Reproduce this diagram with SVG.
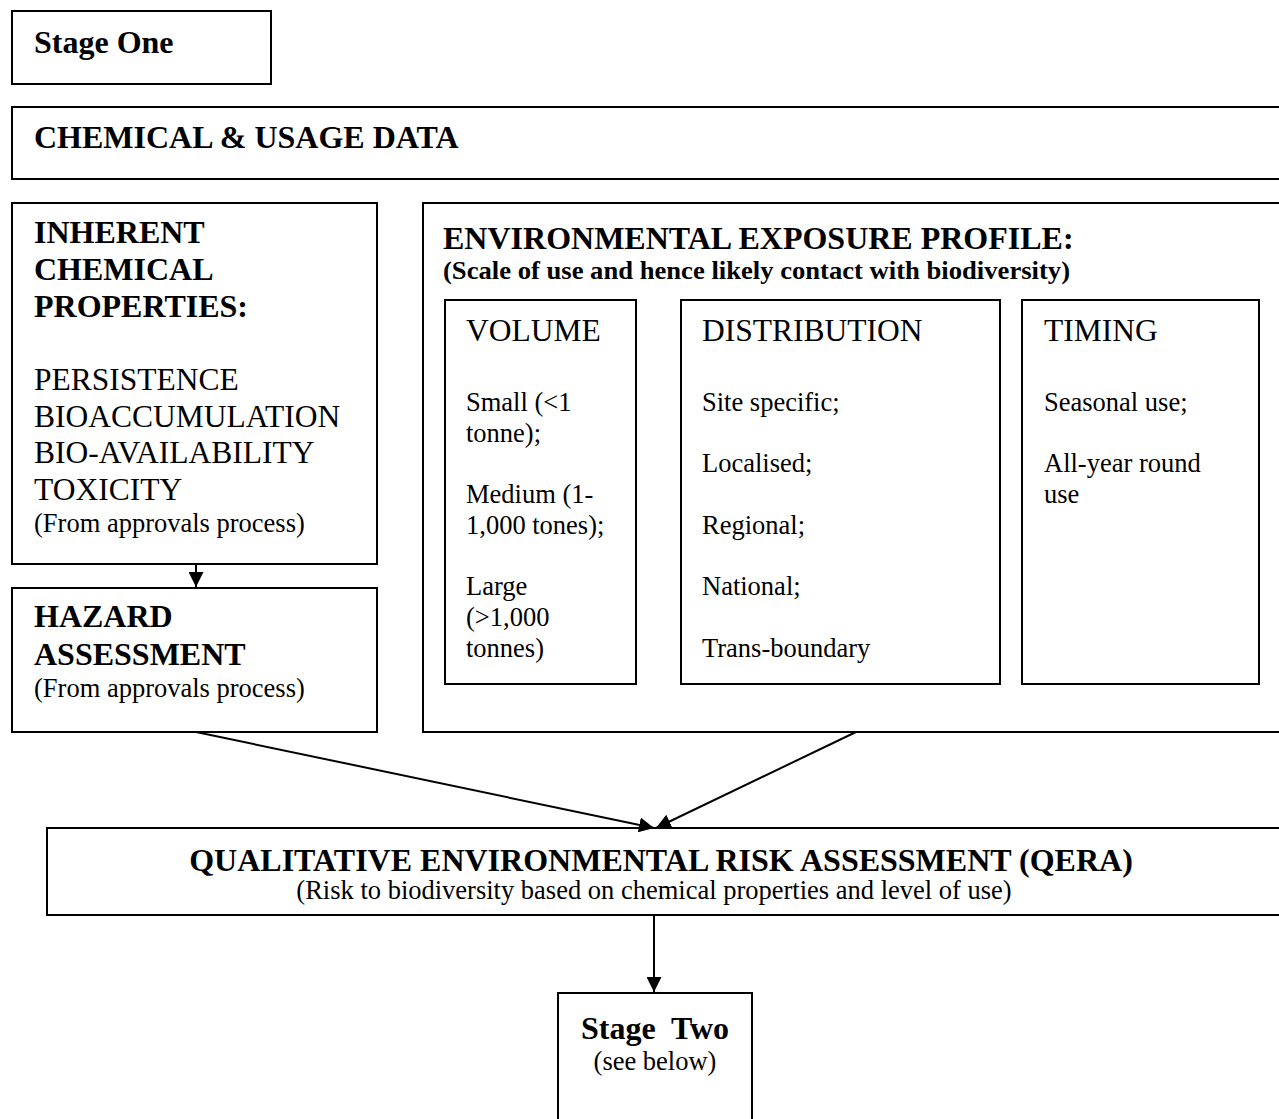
<svg xmlns="http://www.w3.org/2000/svg" width="1279" height="1119" viewBox="0 0 1279 1119">
  <style>
    .box { fill: #ffffff; stroke: #000000; stroke-width: 2; }
    .link { fill: none; stroke: #000000; stroke-width: 2; }
    text { font-family: "Liberation Serif", "Times New Roman", serif; fill: #000000; }
    .h { font-size: 32px; font-weight: bold; }
    .big { font-size: 31.5px; }
    .sm { font-size: 26.5px; }
    .smb { font-size: 25px; font-weight: bold; }
  </style>
  <defs>
    <marker id="arrow" viewBox="0 0 15 15" refX="15" refY="7.5" markerWidth="15" markerHeight="15" markerUnits="userSpaceOnUse" orient="auto">
      <path d="M0,0 L15,7.5 L0,15 Z" fill="#000000"/>
    </marker>
  </defs>
  <rect width="1279" height="1119" fill="#ffffff"/>

  <g id="stage-one">
    <rect class="box" x="12" y="11" width="259" height="73"/>
    <text class="h" x="34" y="53">Stage One</text>
  </g>

  <g id="chemical-usage-data">
    <rect class="box" x="12" y="107" width="1290" height="72"/>
    <text class="h" x="34" y="148">CHEMICAL &amp; USAGE DATA</text>
  </g>

  <g id="inherent-properties">
    <rect class="box" x="12" y="203" width="365" height="361"/>
    <text class="h" x="34" y="243">INHERENT</text>
    <text class="h" x="34" y="280">CHEMICAL</text>
    <text class="h" x="34" y="317">PROPERTIES:</text>
    <text class="big" x="34" y="390">PERSISTENCE</text>
    <text class="big" x="34" y="427">BIOACCUMULATION</text>
    <text class="big" x="34" y="463">BIO-AVAILABILITY</text>
    <text class="big" x="34" y="500">TOXICITY</text>
    <text class="sm" x="34" y="532">(From approvals process)</text>
  </g>

  <g id="hazard-assessment">
    <rect class="box" x="12" y="588" width="365" height="144"/>
    <text class="h" x="34" y="627">HAZARD</text>
    <text class="h" x="34" y="665">ASSESSMENT</text>
    <text class="sm" x="34" y="697">(From approvals process)</text>
  </g>

  <g id="exposure-profile">
    <rect class="box" x="423" y="203" width="880" height="529"/>
    <text class="h" x="443" y="249">ENVIRONMENTAL EXPOSURE PROFILE:</text>
    <text class="smb" x="443" y="279" textLength="627" lengthAdjust="spacingAndGlyphs">(Scale of use and hence likely contact with biodiversity)</text>
  </g>

  <g id="volume">
    <rect class="box" x="445" y="300" width="191" height="384"/>
    <text class="big" x="466" y="341">VOLUME</text>
    <text class="sm" x="466" y="411">Small (&lt;1</text>
    <text class="sm" x="466" y="442">tonne);</text>
    <text class="sm" x="466" y="503">Medium (1-</text>
    <text class="sm" x="466" y="534">1,000 tones);</text>
    <text class="sm" x="466" y="595">Large</text>
    <text class="sm" x="466" y="626">(&gt;1,000</text>
    <text class="sm" x="466" y="657">tonnes)</text>
  </g>

  <g id="distribution">
    <rect class="box" x="681" y="300" width="319" height="384"/>
    <text class="big" x="702" y="341">DISTRIBUTION</text>
    <text class="sm" x="702" y="411">Site specific;</text>
    <text class="sm" x="702" y="472">Localised;</text>
    <text class="sm" x="702" y="534">Regional;</text>
    <text class="sm" x="702" y="595">National;</text>
    <text class="sm" x="702" y="657">Trans-boundary</text>
  </g>

  <g id="timing">
    <rect class="box" x="1022" y="300" width="237" height="384"/>
    <text class="big" x="1044" y="341">TIMING</text>
    <text class="sm" x="1044" y="411">Seasonal use;</text>
    <text class="sm" x="1044" y="472">All-year round</text>
    <text class="sm" x="1044" y="503">use</text>
  </g>

  <g id="qera">
    <rect class="box" x="47" y="828" width="1260" height="87"/>
    <text class="h" x="661" y="871" text-anchor="middle">QUALITATIVE ENVIRONMENTAL RISK ASSESSMENT (QERA)</text>
    <text class="sm" x="654" y="899" text-anchor="middle">(Risk to biodiversity based on chemical properties and level of use)</text>
  </g>

  <g id="stage-two">
    <rect class="box" x="558" y="993" width="194" height="140"/>
    <text class="h" x="655" y="1039" text-anchor="middle" xml:space="preserve">Stage  Two</text>
    <text class="sm" x="655" y="1070" text-anchor="middle">(see below)</text>
  </g>

  <g id="connectors">
    <line class="link" x1="196" y1="564" x2="196" y2="587" marker-end="url(#arrow)"/>
    <line class="link" x1="196" y1="732" x2="654" y2="828" marker-end="url(#arrow)"/>
    <line class="link" x1="856" y1="732" x2="656" y2="828" marker-end="url(#arrow)"/>
    <line class="link" x1="654" y1="915" x2="654" y2="992" marker-end="url(#arrow)"/>
  </g>
</svg>
